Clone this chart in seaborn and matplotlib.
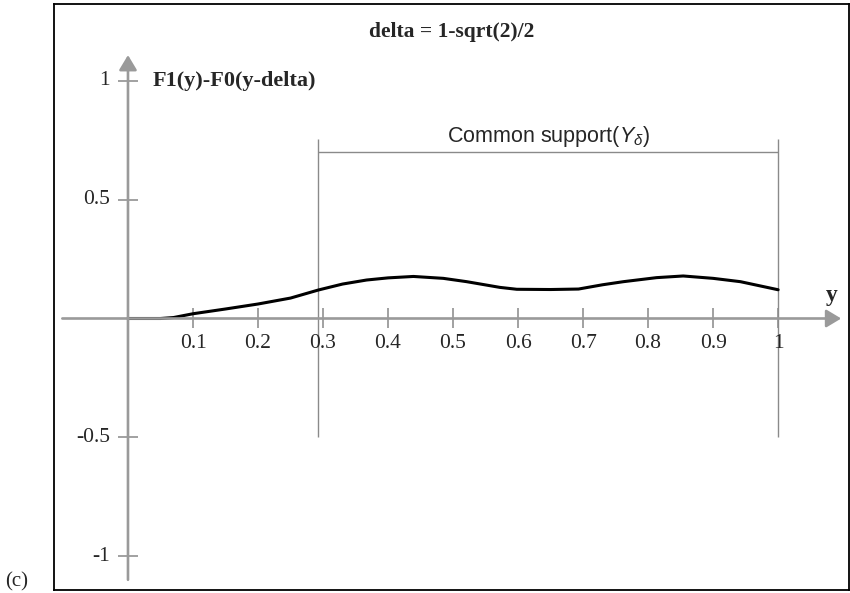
import numpy as np
import pandas as pd
import matplotlib
matplotlib.use("Agg")
import matplotlib.pyplot as plt
import seaborn as sns

# ---- data ----
x_vals = [0.0, 0.05, 0.07, 0.1, 0.15, 0.2, 0.25, 0.2929, 0.33, 0.367, 0.4, 0.439,
          0.485, 0.521, 0.572, 0.598, 0.65, 0.693, 0.73, 0.762, 0.813, 0.854,
          0.9, 0.942, 1.0]
y_vals = [0.0, 0.0, 0.004, 0.02, 0.04, 0.061, 0.086, 0.12, 0.145, 0.162, 0.171, 0.177,
          0.169, 0.155, 0.131, 0.123, 0.122, 0.124, 0.142, 0.155, 0.172, 0.179,
          0.169, 0.155, 0.121]
x_ticks = [0.1, 0.2, 0.3, 0.4, 0.5, 0.6, 0.7, 0.8, 0.9, 1.0]
x_tick_labels = ["0.1", "0.2", "0.3", "0.4", "0.5", "0.6", "0.7", "0.8", "0.9", "1"]
y_ticks = [-1.0, -0.5, 0.5, 1.0]
y_tick_labels = ["-1", "-0.5", "0.5", "1"]
delta = 1 - np.sqrt(2) / 2
support = [delta, 1.0]

sns.set_theme(style="white")
plt.rcParams["font.family"] = ["Liberation Serif", "DejaVu Serif"]
plt.rcParams["mathtext.fontset"] = "custom"
plt.rcParams["mathtext.it"] = "Liberation Sans:italic"
plt.rcParams["mathtext.rm"] = "Liberation Sans"

fig = plt.figure(figsize=(8.5, 5.93), dpi=100)
ax = fig.add_axes([54 / 850, 3 / 593, (849 - 54) / 850, (589 - 3) / 593])
ax.set_xlim(-0.1138, 1.109)
ax.set_ylim(-1.143, 1.324)
ax.set_xticks([])
ax.set_yticks([])
for s in ax.spines.values():
    s.set_visible(True)
    s.set_color("black")
    s.set_linewidth(1.3)

axis_col = "#9a9a9a"
arrow = dict(arrowstyle="-|>,head_length=0.75,head_width=0.45", color=axis_col,
             lw=1.9, mutation_scale=12, shrinkA=0, shrinkB=0)
ax.annotate("", xy=(1.097, 0), xytext=(-0.101, 0), arrowprops=arrow)
ax.annotate("", xy=(0, 1.109), xytext=(0, -1.1), arrowprops=arrow)

# tick crosses
ax.plot(x_ticks, [0] * len(x_ticks), ls="none", marker="|", ms=15, mew=1.3, color=axis_col)
ax.plot([0] * len(y_ticks), y_ticks, ls="none", marker="_", ms=15, mew=1.3, color=axis_col)

for xt, lab in zip(x_ticks, x_tick_labels):
    ax.annotate(lab, xy=(xt, 0), xytext=(0, -18), textcoords="offset points",
                ha="center", va="center", fontsize=15.5)
for yt, lab in zip(y_ticks, y_tick_labels):
    ax.annotate(lab, xy=(0, yt), xytext=(-13, 0), textcoords="offset points",
                ha="right", va="center", fontsize=15.5)

# common support bracket
ax.vlines(support, -0.5, 0.756, color="#8a8a8a", lw=1.0)
ax.hlines(0.702, support[0], support[1], color="#8a8a8a", lw=1.0)
ax.text((support[0] + support[1]) / 2, 0.745, r"Common support($Y_\delta$)",
        family="Liberation Sans", fontsize=15.5, ha="center", va="baseline")

df = pd.DataFrame({"y": x_vals, "diff": y_vals})
sns.lineplot(data=df, x="y", y="diff", color="black", lw=2.2, ax=ax)
ax.set_xlabel("")
ax.set_ylabel("")

ax.text(0.498, 1.205, "delta = 1-sqrt(2)/2", ha="center", va="center",
        fontsize=15.5, fontweight="bold")
ax.text(0.0385, 1.0, "F1(y)-F0(y-delta)", ha="left", va="center",
        fontsize=16, fontweight="bold")
ax.text(1.083, 0.095, "y", ha="center", va="center", fontsize=17, fontweight="bold")
fig.text(5 / 850, 0.002, "(c)", ha="left", va="bottom", fontsize=15)

fig.savefig("out.png", dpi=100)
